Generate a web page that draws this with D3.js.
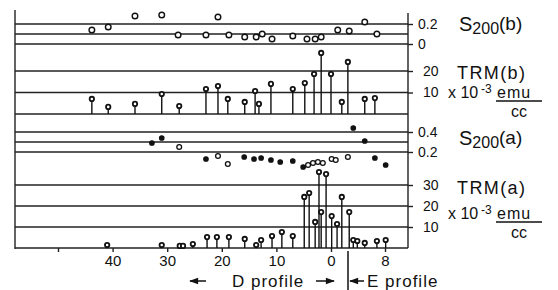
<!DOCTYPE html>
<html>
<head>
<meta charset="utf-8">
<script src="https://cdn.jsdelivr.net/npm/d3@7"></script>
<style>
  body { margin: 0; background: #fff; }
  svg text { font-family: "Liberation Sans", "DejaVu Sans", sans-serif; fill: #111; }
  .grid { stroke: #222; stroke-width: 1.4; }
  .stem { stroke: #111; stroke-width: 1.4; }
</style>
<title>S200 and TRM profiles</title>
</head>
<body>
<div id="chart"></div>
<script>
// positions along the profile: negative = D profile distance, positive = E profile
var s200bPos = [-43.8, -40.8, -35.9, -31.0, -28.0, -22.9, -20.7, -18.7, -15.8, -13.7, -12.6, -10.8, -7.0, -4.4, -2.9, -1.8, 1.0, 2.7, 5.0, 6.8];
var s200bVal = [0.14, 0.17, 0.28, 0.29, 0.09, 0.09, 0.27, 0.09, 0.07, 0.07, 0.10, 0.05, 0.08, 0.05, 0.05, 0.07, 0.14, 0.13, 0.22, 0.10];

var trmbPos = [-43.8, -40.8, -35.9, -31.0, -27.8, -22.9, -20.7, -18.9, -15.8, -13.9, -13.2, -11.0, -7.0, -4.8, -3.1, -1.8, 0, 1.6, 2.5, 5.0, 6.5];
var trmbVal = [7.0, 3.3, 4.7, 9.3, 3.7, 11.6, 13.0, 7.0, 5.6, 10.7, 4.7, 14.0, 11.6, 14.4, 18.6, 28.4, 18.6, 5.6, 24.2, 7.0, 7.4];

var s200aPos = [-32.8, -31.0, -27.8, -22.9, -20.7, -18.9, -15.9, -14.1, -12.8, -11.0, -9.3, -7.0, -5.1, -4.2, -3.3, -2.4, -1.5, 0.1, 0.7, 2.5, 3.3, 5.0, 6.5, 8.1];
var s200aVal = [0.29, 0.34, 0.25, 0.13, 0.16, 0.08, 0.15, 0.13, 0.14, 0.12, 0.10, 0.11, 0.05, 0.07, 0.09, 0.10, 0.09, 0.13, 0.12, 0.15, 0.44, 0.31, 0.14, 0.07];
var s200aOpen = [0, 0, 1, 0, 1, 1, 0, 0, 0, 0, 0, 0, 0, 1, 1, 1, 1, 1, 1, 1, 0, 0, 0, 0];

var trmaPos = [-41.0, -31.0, -27.7, -27.1, -25.3, -22.7, -20.9, -18.7, -15.8, -13.7, -12.8, -10.8, -9.0, -7.0, -4.9, -4.0, -2.9, -2.2, -1.8, -0.9, 0.1, 0.9, 1.6, 2.7, 3.3, 3.9, 5.0, 6.8, 8.1];
var trmaVal = [1.4, 1.4, 1.0, 1.0, 1.9, 5.2, 5.2, 5.2, 4.3, 1.4, 3.8, 5.7, 7.6, 5.7, 24.3, 26.2, 12.4, 36.2, 17.1, 35.2, 15.2, 11.4, 24.3, 17.1, 3.8, 3.3, 2.4, 3.3, 3.8];

var xTicks = [-50, -40, -30, -20, -10, 0, 8];
var s200bGrid = [0, 0.1, 0.2], s200bTicks = [0, 0.2];
var trmbGrid = [0, 10, 20], trmbTicks = [10, 20];
var s200aGrid = [0.2, 0.3, 0.4], s200aTicks = [0.2, 0.4];
var trmaGrid = [0, 10, 20, 30], trmaTicks = [10, 20, 30];

var W = 558, H = 290, left = 15, right = 408;

var svg = d3.select("#chart").append("svg")
    .attr("width", W)
    .attr("height", H);

var x = d3.scaleLinear().domain([-50, 0, 8]).range([58, 331, 385]);

var yS200b = d3.scaleLinear().domain([0, 0.2]).range([44, 24]);
var yTrmb = d3.scaleLinear().domain([0, 20]).range([114, 71]);
var yS200a = d3.scaleLinear().domain([0.2, 0.4]).range([152, 132]);
var yTrma = d3.scaleLinear().domain([0, 30]).range([248, 185]);

// grid lines across the plot
function grid(vals, y) {
    svg.append("g").selectAll("line").data(vals).enter().append("line")
        .attr("class", "grid")
        .attr("x1", left).attr("x2", right)
        .attr("y1", function (d) { return y(d); })
        .attr("y2", function (d) { return y(d); });
}
grid(s200bGrid, yS200b);
grid(trmbGrid, yTrmb);
grid(s200aGrid, yS200a);
grid(trmaGrid, yTrma);

// frame verticals
svg.append("line").attr("class", "grid").attr("x1", left).attr("x2", left).attr("y1", 10).attr("y2", 249);
svg.append("line").attr("class", "grid").attr("x1", right).attr("x2", right).attr("y1", 13).attr("y2", 248);

// right axes
function rightAxis(y, vals, fmt, pad) {
    var g = svg.append("g")
        .attr("transform", "translate(" + right + ",0)")
        .call(d3.axisRight(y).tickValues(vals).tickFormat(fmt).tickSize(5).tickPadding(pad));
    g.select(".domain").remove();
    g.selectAll("line").attr("stroke", "#222").attr("stroke-width", 1.4);
    g.selectAll("text").attr("font-size", 14).attr("fill", "#111")
        .style("font-family", "'Liberation Sans', sans-serif");
}
rightAxis(yS200b, s200bTicks, function (d) { return d === 0 ? "0" : d3.format(".1f")(d); }, 5);
rightAxis(yTrmb, trmbTicks, d3.format("d"), 10);
rightAxis(yS200a, s200aTicks, d3.format(".1f"), 5);
rightAxis(yTrma, trmaTicks, d3.format("d"), 10);

// bottom axis
var xa = svg.append("g")
    .attr("transform", "translate(0,248)")
    .call(d3.axisBottom(x).tickValues(xTicks).tickSize(4).tickPadding(3)
        .tickFormat(function (d) { return d === -50 ? "" : Math.abs(d); }));
xa.select(".domain").remove();
xa.selectAll("line").attr("stroke", "#222").attr("stroke-width", 1.4);
xa.selectAll("text").attr("font-size", 15).attr("fill", "#111")
    .style("font-family", "'Liberation Sans', sans-serif");

// stems
function stems(pos, val, y) {
    var g = svg.append("g");
    g.selectAll("line").data(pos).enter().append("line")
        .attr("class", "stem")
        .attr("x1", function (d) { return x(d); })
        .attr("x2", function (d) { return x(d); })
        .attr("y1", y(0))
        .attr("y2", function (d, i) { return y(val[i]); });
    g.selectAll("circle").data(pos).enter().append("circle")
        .attr("cx", function (d) { return x(d); })
        .attr("cy", function (d, i) { return y(val[i]); })
        .attr("r", 2.2)
        .style("fill", "#fff")
        .style("stroke", "#111")
        .style("stroke-width", 1.8);
}
stems(trmbPos, trmbVal, yTrmb);
stems(trmaPos, trmaVal, yTrma);

// S200(b) open circles
svg.append("g").selectAll("circle").data(s200bPos).enter().append("circle")
    .attr("cx", function (d) { return x(d); })
    .attr("cy", function (d, i) { return yS200b(s200bVal[i]); })
    .attr("r", 2.8)
    .style("fill", "#fff")
    .style("stroke", "#111")
    .style("stroke-width", 1.4);

// S200(a) dots
svg.append("g").selectAll("circle").data(s200aPos).enter().append("circle")
    .attr("cx", function (d) { return x(d); })
    .attr("cy", function (d, i) { return yS200a(s200aVal[i]); })
    .attr("r", function (d, i) { return s200aOpen[i] ? 2.4 : 2.2; })
    .style("fill", function (d, i) { return s200aOpen[i] ? "#fff" : "#111"; })
    .style("stroke", "#111")
    .style("stroke-width", 1.3);

// right-hand labels
function sLabel(tx, ty, tag) {
    var t = svg.append("text").attr("x", tx).attr("y", ty).attr("font-size", 20);
    t.append("tspan").text("S");
    t.append("tspan").attr("font-size", 16).attr("dy", 3).text("200");
    t.append("tspan").attr("font-size", 19).attr("dy", -4).text(tag);
}
function trmLabel(tx, ty, tag) {
    svg.append("text").attr("x", tx).attr("y", ty).attr("font-size", 18)
        .attr("letter-spacing", 1.4).text("TRM" + tag);
}
function unitLabel(tx, ty) {
    var t = svg.append("text").attr("x", tx).attr("y", ty).attr("font-size", 16);
    t.append("tspan").text("x 10");
    svg.append("text").attr("x", tx + 33).attr("y", ty - 5).attr("font-size", 12).text("-3");
    svg.append("text").attr("x", tx + 49).attr("y", ty).attr("font-size", 16)
        .attr("letter-spacing", 1).text("emu");
    svg.append("line").attr("x1", tx + 48).attr("x2", tx + 94)
        .attr("y1", ty + 3).attr("y2", ty + 3)
        .attr("stroke", "#111").attr("stroke-width", 1.4);
    svg.append("text").attr("x", tx + 71).attr("y", ty + 19).attr("font-size", 16)
        .attr("text-anchor", "middle").text("cc");
}
sLabel(459, 31, "(b)");
trmLabel(457, 79, "(b)");
unitLabel(448, 98);
sLabel(459, 145, "(a)");
trmLabel(457, 194, "(a)");
unitLabel(448, 219);

// profile annotations
svg.append("defs").append("marker")
    .attr("id", "ah").attr("viewBox", "0 0 10 10")
    .attr("refX", 9).attr("refY", 5)
    .attr("markerWidth", 7).attr("markerHeight", 6)
    .attr("orient", "auto-start-reverse")
    .append("path").attr("d", "M0,1.5 L10,5 L0,8.5 Z").attr("fill", "#111");

function arrow(x1, x2, y) {
    svg.append("line").attr("x1", x1).attr("x2", x2).attr("y1", y).attr("y2", y)
        .attr("stroke", "#111").attr("stroke-width", 1.5)
        .attr("marker-end", "url(#ah)");
}
arrow(206, 190, 281);
arrow(316, 334, 281);
arrow(364, 350, 281);
svg.append("line").attr("x1", 348).attr("x2", 348).attr("y1", 251).attr("y2", 290)
    .attr("stroke", "#111").attr("stroke-width", 1.5);
svg.append("text").attr("x", 232).attr("y", 287).attr("font-size", 17)
    .attr("letter-spacing", 1).text("D profile");
svg.append("text").attr("x", 367).attr("y", 287).attr("font-size", 17)
    .attr("letter-spacing", 1).text("E profile");
</script>
</body>
</html>
